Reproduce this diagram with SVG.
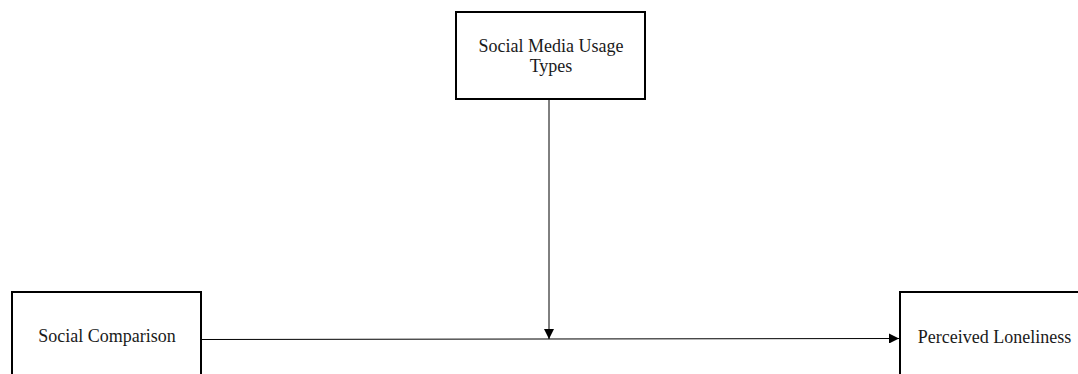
<svg xmlns="http://www.w3.org/2000/svg" width="1078" height="374" viewBox="0 0 1078 374">
<style>
.box{fill:#fff;stroke:#000;stroke-width:2}
.t{font-family:"Liberation Serif","Times New Roman",serif;font-size:18px;fill:#1a1a1a;text-anchor:middle}
.ln{stroke:#000;stroke-width:1;fill:none}
</style>
<defs>
<marker id="ah" markerWidth="10" markerHeight="10" refX="10" refY="5" orient="auto" markerUnits="userSpaceOnUse">
<path d="M0,0 L10,5 L0,10 Z" fill="#000"/>
</marker>
</defs>
<rect width="1078" height="374" fill="#fff"/>
<g id="node-usage">
<rect class="box" x="456" y="12" width="189" height="87"/>
<text class="t" x="551" y="52">Social Media Usage</text>
<text class="t" x="551" y="72">Types</text>
</g>
<g id="node-comparison">
<rect class="box" x="12" y="292" width="189" height="100"/>
<text class="t" x="107" y="342">Social Comparison</text>
</g>
<g id="node-loneliness">
<rect class="box" x="900" y="292" width="200" height="100"/>
<text class="t" x="994.5" y="343">Perceived Loneliness</text>
</g>
<g id="connectors">
<line class="ln" x1="202" y1="339.5" x2="899" y2="338.5" marker-end="url(#ah)"/>
<line class="ln" x1="549" y1="100" x2="549" y2="339" marker-end="url(#ah)"/>
</g>
</svg>
